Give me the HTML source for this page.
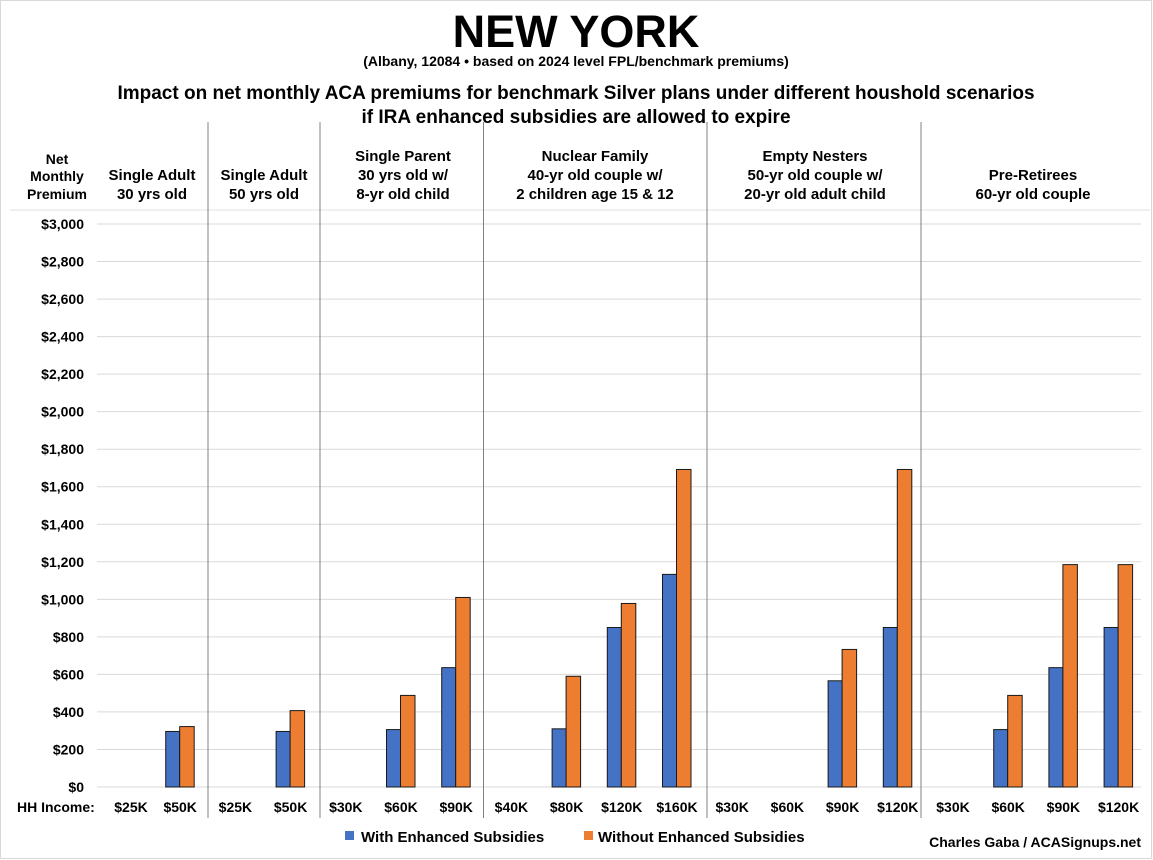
<!DOCTYPE html><html><head><style>body{margin:0;background:#fff}svg{display:block}text{font-family:"Liberation Sans",sans-serif;font-weight:bold;fill:#000}</style></head><body>
<svg width="1153" height="860" viewBox="0 0 1153 860">
<rect x="0.5" y="0.5" width="1151" height="858" fill="#fff" stroke="#d9d9d9"/>
<text x="576" y="47" font-size="45" text-anchor="middle">NEW YORK</text>
<text x="576" y="66" font-size="14" text-anchor="middle">(Albany, 12084 • based on 2024 level FPL/benchmark premiums)</text>
<text x="576" y="99" font-size="19" text-anchor="middle">Impact on net monthly ACA premiums for benchmark Silver plans under different houshold scenarios</text>
<text x="576" y="123" font-size="19" text-anchor="middle">if IRA enhanced subsidies are allowed to expire</text>
<g font-size="14" text-anchor="middle">
<text x="57" y="164">Net</text><text x="57" y="181">Monthly</text><text x="57" y="199">Premium</text>
<g font-size="15">
<text x="152" y="180">Single Adult</text><text x="152" y="199">30 yrs old</text>
<text x="264" y="180">Single Adult</text><text x="264" y="199">50 yrs old</text>
<text x="403" y="161">Single Parent</text><text x="403" y="180">30 yrs old w/</text><text x="403" y="199">8-yr old child</text>
<text x="595" y="161">Nuclear Family</text><text x="595" y="180">40-yr old couple w/</text><text x="595" y="199">2 children age 15 &amp; 12</text>
<text x="815" y="161">Empty Nesters</text><text x="815" y="180">50-yr old couple w/</text><text x="815" y="199">20-yr old adult child</text>
<text x="1033" y="180">Pre-Retirees</text><text x="1033" y="199">60-yr old couple</text>
</g></g>
<line x1="10" y1="210" x2="1150" y2="210" stroke="#e0e0e0"/>
<g id="grid" stroke="#d9d9d9" stroke-width="1"></g>
<g id="yl" font-size="14" text-anchor="end"></g>
<g id="bars" stroke="#1a1a1a" stroke-width="1"></g>
<g id="sep" stroke="#808080" stroke-width="1"></g>
<g id="xl" font-size="14" text-anchor="middle"></g>
<text x="17" y="812" font-size="14">HH Income:</text>
<rect x="345" y="831" width="9" height="9" fill="#4472c4"/>
<text x="361" y="842" font-size="15">With Enhanced Subsidies</text>
<rect x="584" y="831" width="9" height="9" fill="#ed7d31"/>
<text x="598" y="842" font-size="15">Without Enhanced Subsidies</text>
<text x="1141" y="847" font-size="14" text-anchor="end">Charles Gaba / ACASignups.net</text>
</svg>
<script>
var ns="http://www.w3.org/2000/svg";function el(p,t,a,tx){var e=document.createElementNS(ns,t);for(var k in a)e.setAttribute(k,a[k]);if(tx)e.textContent=tx;document.getElementById(p).appendChild(e);}
var y0=787,py=(787-224)/3000;
for(var v=0;v<=3000;v+=200){var y=y0-v*py;el('grid','line',{x1:97,x2:1141,y1:y,y2:y});el('yl','text',{x:84,y:y+5},'$'+v.toLocaleString('en-US'));}
var L=['$25K','$50K','$25K','$50K','$30K','$60K','$90K','$40K','$80K','$120K','$160K','$30K','$60K','$90K','$120K','$30K','$60K','$90K','$120K'];
var D=[[0,0],[296,322],[0,0],[296,407],[0,0],[306,488],[636,1010],[0,0],[310,590],[850,978],[1133,1692],[0,0],[0,0],[566,733],[850,1692],[0,0],[306,488],[636,1185],[850,1185]];
for(var i=0;i<19;i++){var c=125+55.2*i;var lx=i==0?131:c;el('xl','text',{x:lx,y:812},L[i]);
if(D[i][0]){el('bars','rect',{x:c-14.5,y:y0-D[i][0]*py,width:14,height:D[i][0]*py,fill:'#4472c4'});el('bars','rect',{x:c-0.5,y:y0-D[i][1]*py,width:14.5,height:D[i][1]*py,fill:'#ed7d31'});}}
[208,320,483.5,707,921].forEach(function(x){el('sep','line',{x1:x,x2:x,y1:122,y2:818});});
</script>
</body></html>
